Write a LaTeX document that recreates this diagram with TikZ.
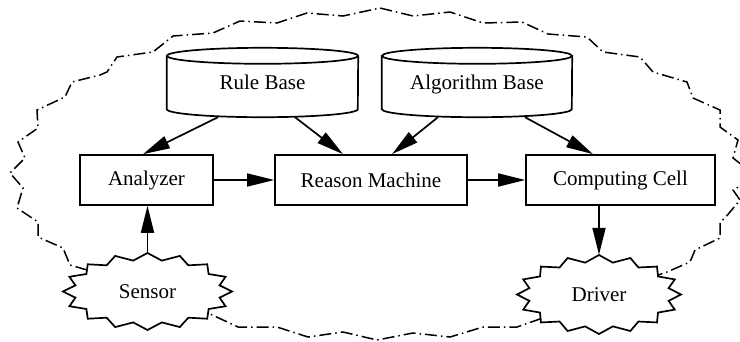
\documentclass[tikz,border=0pt]{standalone}
\usepackage{fontspec}
\setmainfont{Liberation Serif}
\usetikzlibrary{shapes.geometric,arrows.meta,calc}
\newcommand\drawcyl[2]{%
  \draw[boxline] ([yshift=-8]#1.north west) -- ([yshift=8]#1.south west)
    arc[start angle=180,end angle=360,x radius=#2,y radius=8]
    -- ([yshift=-8]#1.north east);
  \draw[boxline] ([yshift=-8]#1.north) ellipse [x radius=#2, y radius=8];}
\newcommand\drawburst[3]{%
  \begin{scope}[shift={(#1)}]
    \draw[boxline,fill=white] (90:#2 and #3)
      \foreach \i in {1,...,31} { -- ({90+\i*11.25}:{#2-11*mod(\i,2)} and {#3-7*mod(\i,2)}) } -- cycle;
  \end{scope}}
\begin{document}
\begin{tikzpicture}[x=1pt,y=1pt,
  font=\fontsize{21}{25}\selectfont,
  boxline/.style={line width=1.7pt},
  box/.style={boxline,draw,rectangle,inner sep=0pt,minimum height=50},
  cylnode/.style={rectangle,inner sep=0pt,minimum height=69},
  burstnode/.style={ellipse,inner sep=0pt},
  arr/.style={line width=1.7pt,-{Triangle[length=27pt,width=13pt]}},
  cloud/.style={line width=1.5pt,dash pattern=on 12pt off 4pt on 1.5pt off 4pt}]
\useasboundingbox (0,0) rectangle (740,-341);
% outer dash-dot boundary
\draw[cloud] (87,-270) -- (70,-265) -- (63,-248) -- (38,-237) -- (38,-222) -- (17,-208)
  -- (23,-188) -- (10,-173) -- (25,-158) -- (18,-142) -- (38,-128) -- (37,-110)
  -- (65,-97) -- (72,-82) -- (100,-75) -- (107,-72) -- (117,-57) -- (153,-52)
  -- (173,-36) -- (213,-33) -- (240,-21) -- (277,-23) -- (307,-13) -- (343,-16)
  -- (380,-8) -- (413,-16) -- (450,-12) -- (483,-23) -- (522,-22) -- (548,-34)
  -- (587,-37) -- (603,-52) -- (640,-57) -- (653,-72) -- (687,-82) -- (693,-98)
  -- (720,-110) -- (720,-127) -- (738,-140) -- (733,-158) -- (742,-165) -- (742,-185)
  -- (733,-190) -- (740,-200) -- (725,-218) -- (720,-222) -- (720,-238) -- (695,-250)
  -- (690,-262) -- (667,-272) -- (600,-295) -- (537,-320) -- (517,-327) -- (483,-327)
  -- (450,-337) -- (413,-333) -- (377,-340) -- (343,-332) -- (308,-337) -- (277,-327)
  -- (238,-327) -- (208,-313) -- (147,-291) -- cycle;
% starbursts
\coordinate (snc) at (147.5,-291.5);
\coordinate (drc) at (599,-294.5);
\drawburst{snc}{84.5}{38.5}
\drawburst{drc}{82}{39.5}
\node[burstnode,minimum width=169,minimum height=77] (sn) at (snc) {Sensor};
\node[burstnode,minimum width=164,minimum height=79] (dr) at (drc) {Driver};
% databases
\node[cylnode,minimum width=191,text depth=-2pt] (rb) at (262.5,-82.5) {Rule Base};
\node[cylnode,minimum width=190,text depth=-2pt] (ab) at (477,-82.5) {Algorithm Base};
\drawcyl{rb}{95.5}
\drawcyl{ab}{95}
% boxes
\node[box,minimum width=133] (an) at (146.5,-180) {Analyzer};
\node[box,minimum width=192] (rm) at (371,-180) {Reason Machine};
\node[box,minimum width=189] (cc) at (620.5,-180) {Computing Cell};
% connectors
\draw[arr] ([xshift=-44.5]rb.south) -- ([xshift=-3.5]an.north);
\draw[arr] ([xshift=32.5]rb.south) -- ([xshift=-28]rm.north);
\draw[arr] ([xshift=-39]ab.south) -- ([xshift=21]rm.north);
\draw[arr] ([xshift=48]ab.south) -- ([xshift=-27.5]cc.north);
\draw[arr] (an.east) -- (rm.west);
\draw[arr] (rm.east) -- (cc.west);
\draw[arr] (sn.north) -- (sn.north |- an.south);
\draw[arr] (dr.north |- cc.south) -- (dr.north);
\end{tikzpicture}
\end{document}
